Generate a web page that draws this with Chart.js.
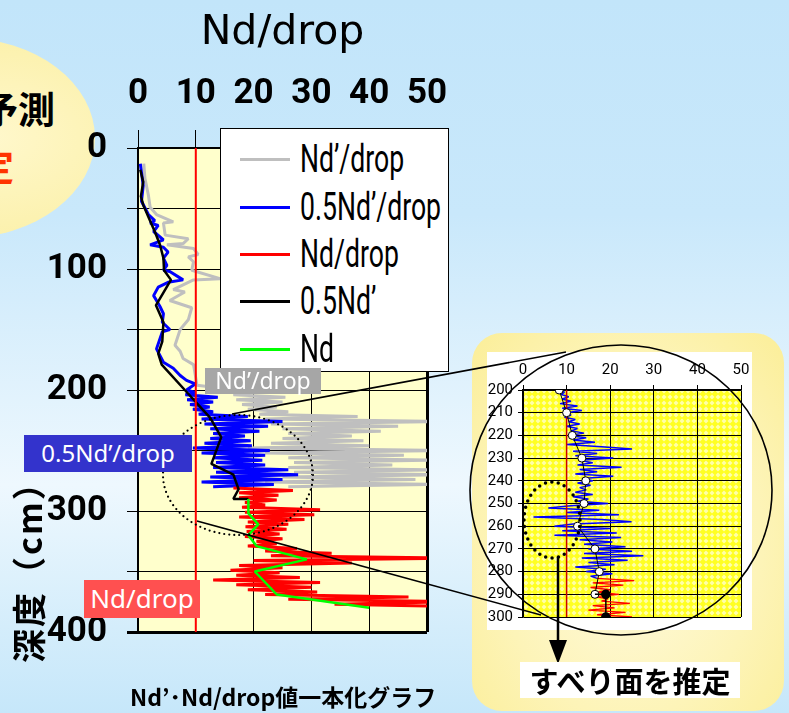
<!DOCTYPE html>
<html>
<head>
<meta charset="utf-8">
<script src="https://cdn.jsdelivr.net/npm/chart.js@4.4.1/dist/chart.umd.min.js"></script>
<style>
  body { margin: 0; }
  #slide {
    position: relative; width: 789px; height: 713px; overflow: hidden;
    background: linear-gradient(to bottom, #c2e5fa 0%, #c9e8fb 30%, #eef8fe 68%, #d4edfb 88%, #c6e7fa 100%);
    font-family: 'Noto Sans CJK JP', 'Noto Sans', sans-serif;
  }
  #slide > * { position: absolute; }
  #blob {
    left: -170px; top: 38px; width: 265px; height: 200px; border-radius: 50%;
    background: radial-gradient(ellipse at 60% 50%, #fff8cc 0%, #fbf0a8 80%, #f7eeb0 100%);
  }
  .blobtxt { font-weight: bold; font-size: 37px; line-height: 1; white-space: nowrap; }
  #t1 { left: -19px; top: 90px; color: #000; }
  #t2 { left: -23px; top: 147px; color: #ff3300; }
  #mainChart { left: 0; top: 0; }
  #legend {
    left: 220px; top: 128px; width: 229px; height: 244px; background: #fff;
    border: 1px solid #000; box-sizing: border-box; padding-top: 5px;
    font-family: Roboto, sans-serif; font-size: 38px;
  }
  #legend .item { height: 47.3px; line-height: 47px; white-space: nowrap; }
  #legend .swatch { display: inline-block; width: 50px; height: 3px; margin: 0 10px 0 19px; vertical-align: middle; }
  #legend .txt { display: inline-block; transform: scaleX(0.70); transform-origin: 0 50%; vertical-align: middle; }
  #panel {
    left: 472px; top: 333px; width: 312px; height: 378px; border-radius: 30px;
    background: radial-gradient(ellipse at 50% 55%, #fffbe2 0%, #fdf4b8 60%, #fbee98 100%);
  }
  #insetChart { left: 487px; top: 352px; background: #fff; }
  #deco { left: 0; top: 0; pointer-events: none; }
  .tag { color: #fff; font-family: 'Noto Sans', sans-serif; white-space: nowrap; text-align: center; }
  #tagGray { left: 205px; top: 368px; width: 116px; height: 26px; line-height: 24px; background: #a6a6a6; font-size: 23px; }
  #tagBlue { left: 24px; top: 435px; width: 168px; height: 37px; line-height: 36px; background: #3333cc; font-size: 24px; }
  #tagRed { left: 84px; top: 580px; width: 116px; height: 38px; line-height: 37px; background: #ff5050; font-size: 26px; }
  #yTitle {
    left: 11px; top: 663px; height: 34px; line-height: 34px; transform-origin: 0 0;
    transform: rotate(-90deg); font-weight: bold; font-size: 34px; white-space: nowrap; letter-spacing: 2px;
  }
  #caption { left: 130px; top: 679px; font-weight: bold; font-size: 23px; white-space: nowrap; }
  #result {
    left: 520px; top: 662px; width: 220px; height: 36px; background: #fff; line-height: 36px;
    text-align: center; font-weight: bold; font-size: 29px; white-space: nowrap;
  }
</style>
</head>
<body>
<div id="slide">
  <div id="blob"></div>
  <div class="blobtxt" id="t1">予測</div>
  <div class="blobtxt" id="t2">定</div>
  <canvas id="mainChart" width="460" height="650"></canvas>
  <div id="legend"></div>
  <div id="panel"></div>
  <canvas id="insetChart" width="265" height="278"></canvas>
  <svg id="deco" width="789" height="713">
    <ellipse cx="238" cy="475" rx="75" ry="60" fill="none" stroke="#000" stroke-width="2.2" stroke-dasharray="0 5" stroke-linecap="round"/>
    <line x1="232" y1="414" x2="566" y2="352" stroke="#000" stroke-width="1.6"/>
    <line x1="197" y1="521" x2="541" y2="615" stroke="#000" stroke-width="1.6"/>
    <ellipse cx="621" cy="490" rx="151" ry="145" fill="none" stroke="#000" stroke-width="1.6"/>
    <ellipse cx="552" cy="520" rx="28" ry="38" fill="none" stroke="#000" stroke-width="3.5" stroke-dasharray="0 6.5" stroke-linecap="round"/>
    <line x1="558" y1="557" x2="558" y2="642" stroke="#000" stroke-width="2.5"/>
    <polygon points="549,640 567,640 558,664" fill="#000"/>
  </svg>
  <div class="tag" id="tagGray">Nd’/drop</div>
  <div class="tag" id="tagBlue">0.5Nd’/drop</div>
  <div class="tag" id="tagRed">Nd/drop</div>
  <div id="yTitle">深度（cm）</div>
  <div id="caption">Nd’･Nd/drop値一本化グラフ</div>
  <div id="result">すべり面を推定</div>
</div>

<script>
// ---- main chart data (depth in cm, value Nd/drop) ----
const criterion = 10;
const depthLabels = [0, 100, 200, 300, 400];

const grayDepth = [13, 25, 39, 49, 55, 61, 62, 72, 75, 79, 80, 83, 88, 90, 94, 101, 108, 109, 117, 119,
  126, 132, 142, 150, 163, 168, 174, 179, 190, 196,
  200, 202, 204, 206, 208, 210, 212, 214, 216, 218, 220, 222, 224, 226, 228, 230, 232, 234, 236, 238,
  240, 242, 244, 246, 248, 250, 252, 254, 256, 258, 260, 262, 264, 266, 268, 270, 272, 274, 276, 278, 280];
const grayVal = [1.0, 1.2, 1.8, 2.1, 3.2, 6.1, 4.4, 4.7, 8.7, 7.8, 5.0, 9.6, 10.4, 8.7, 9.6, 9.3, 14.2, 9.6, 6.1, 8.1,
  5.5, 9.3, 8.7, 7.3, 6.4, 7.3, 7.8, 9.6, 10.0, 10.2,
  17, 19, 16.5, 25.5, 17, 25, 18, 24, 19, 26, 21, 38, 22, 52, 23, 45, 25, 42, 26, 37,
  25, 39, 23, 40, 19, 52, 22, 46, 26, 52, 27, 44, 26, 52, 27, 53, 25, 48, 22, 52, 26];

const blueDepth = [13, 31, 44, 55, 60, 62, 64, 69, 76, 80, 82, 86, 91, 97, 101, 102, 109, 111, 115, 122,
  126, 131, 137, 144, 150, 152, 166, 177, 182, 188, 192, 195,
  200, 202, 204, 206, 208, 210, 212, 214, 216, 218, 220, 222, 224, 226, 228, 230, 232, 234, 236, 238,
  240, 242, 244, 246, 248, 250, 252, 254, 256, 258, 260, 262, 264, 266, 268, 270, 272, 274, 276, 278, 280];
const blueVal = [0.4, 0.9, 0.6, 1.8, 2.9, 2.1, 3.5, 2.7, 4.4, 2.1, 4.4, 5.2, 4.4, 5.0, 4.4, 5.5, 7.8, 5.2, 3.5, 2.7,
  3.2, 3.8, 4.4, 4.2, 5.5, 4.2, 3.2, 4.4, 6.1, 7.3, 8.4, 9.9,
  8.4, 9.9, 8.2, 13.8, 8.5, 13.0, 9.0, 12.4, 9.5, 13.0, 10.5, 19.0, 11.0, 25.0, 11.5, 22.5, 12.5, 21.0, 13.0, 18.5,
  12.5, 19.5, 11.5, 19.7, 9.5, 22.8, 11.0, 22.0, 13.0, 21.5, 13.5, 22.0, 13.0, 26.0, 13.5, 27.7, 12.5, 25.0, 11.0, 23.5, 13.0];

const redDepth = [281, 283, 285, 287, 289, 291, 293, 295, 297, 299, 301, 303, 305, 307, 309, 311, 313, 315, 317, 319,
  321, 323, 325, 327, 329, 331, 333, 335, 337, 339, 341, 343, 345, 347, 349, 351, 353, 355, 357, 359,
  361, 363, 365, 367, 369, 371, 373, 375, 377, 379];
const redVal = [16.5, 26.8, 17.5, 24.3, 17.5, 24.0, 18.5, 22.0, 18.0, 31.5, 18.5, 30.5, 17.5, 28.8, 19.0, 26.0, 18.6, 25.7, 18.8, 24.5,
  18.5, 25.0, 20.5, 24.0, 19.0, 27.5, 22.0, 33.5, 23.0, 55.0, 20.0, 37.0, 17.5, 25.0, 16.0, 24.5, 17.0, 28.0, 13.0, 31.5,
  17.0, 30.0, 19.0, 31.0, 22.0, 46.8, 26.0, 55.0, 34.0, 55.0];

const blackDepth = [18, 28, 40, 47, 57, 69, 80, 91, 101, 109, 130, 144, 160, 170, 179, 200, 223, 239, 261, 270, 282, 290, 290];
const blackVal = [0.4, 0.9, 0.5, 0.9, 1.8, 2.9, 3.8, 4.4, 4.5, 5.7, 3.1, 4.4, 4.2, 3.5, 4.1, 8.1, 12.5, 14.4, 12.7, 16.5, 17.4, 16.5, 19.1];

const greenDepth = [290, 302, 311, 320, 329, 340, 350, 369, 380];
const greenVal = [19.1, 19.1, 20.8, 19.1, 20.5, 29.2, 20.2, 24.0, 40.0];

// ---- inset chart data (200-300 cm) ----
const insetBlueDepth = [200, 201, 202, 203, 204, 205, 206, 207, 208, 209, 210, 211, 212, 213, 214, 215, 216, 217, 218, 219,
  220, 221, 222, 223, 224, 225, 226, 227, 228, 229, 230, 231, 232, 233, 234, 235, 236, 237, 238, 239,
  240, 241, 242, 243, 244, 245, 246, 247, 248, 249, 250, 251, 252, 253, 254, 255, 256, 257, 258, 259,
  260, 261, 262, 263, 264, 265, 266, 267, 268, 269, 270, 271, 272, 273, 274, 275, 276, 277, 278, 279,
  280, 281, 282, 283];
const insetBlueVal = [8.5, 9.5, 8.8, 10.5, 9.0, 11.0, 8.5, 12.5, 9.0, 13.5, 10.0, 11.0, 9.5, 12.0, 10.5, 13.0, 10.0, 12.5, 11.0, 14.0,
  10.5, 14.5, 11.5, 16.5, 10.0, 18.0, 25.0, 11.5, 17.0, 12.0, 20.7, 13.0, 16.0, 12.5, 22.6, 13.0, 17.0, 12.0, 20.7, 13.5,
  16.0, 12.5, 15.5, 13.0, 14.5, 12.0, 16.0, 11.5, 15.0, 12.5, 19.5, 11.0, 5.8, 17.5, 10.0, 22.0, 2.4, 18.0, 24.9, 11.5,
  7.2, 20.0, 9.0, 21.5, 7.2, 22.5, 13.0, 20.5, 14.0, 23.5, 15.0, 25.0, 14.0, 27.6, 13.5, 24.0, 15.0, 21.0, 12.0, 19.0,
  14.5, 20.5, 15.5, 17.0];
const insetRedDepth = [283, 284, 285, 286, 287, 288, 289, 290, 291, 292, 293, 294, 295, 296, 297, 298, 299, 300];
const insetRedVal = [17.0, 25.5, 16.0, 23.0, 15.5, 20.0, 17.0, 22.0, 16.5, 19.5, 18.0, 24.5, 16.0, 21.0, 15.0, 23.5, 17.0, 25.0];
const insetHalfDepth = [200, 210, 220, 230, 240, 250, 260, 270, 280, 290];
const insetHalfVal = [8.3, 10.0, 11.3, 13.5, 14.4, 14.0, 12.5, 16.5, 17.5, 16.5];
const insetNdDepth = [290, 290, 300];
const insetNdVal = [16.5, 19.0, 19.0];

const digits = "Roboto, 'Noto Sans', sans-serif";

function pts(depths, vals) {
  return depths.map((d, i) => ({ x: vals[i], y: d }));
}

const plotBg = {
  id: 'plotBg',
  beforeDraw(chart, args, opts) {
    const { ctx, chartArea: a } = chart;
    ctx.save();
    ctx.fillStyle = opts.color;
    ctx.fillRect(a.left, a.top, a.width, a.height);
    ctx.restore();
  }
};

// pin the plot area: axis boxes get a fixed size and no label overhang padding
function fixX(h) { return s => { s.height = h; s.paddingLeft = 0; s.paddingRight = 0; }; }
function fixY(w) { return s => { s.width = w; s.paddingTop = 0; s.paddingBottom = 0; }; }

const lineBase = { showLine: true, pointRadius: 0, borderJoinStyle: 'bevel', tension: 0, fill: false };

const mainChart = new Chart(document.getElementById('mainChart'), {
  type: 'scatter',
  data: {
    datasets: [
      { ...lineBase, label: 'Nd’/drop', data: pts(grayDepth, grayVal), borderColor: '#bfbfbf', borderWidth: 3, order: 5, inLegend: true },
      { ...lineBase, label: '0.5Nd’/drop', data: pts(blueDepth, blueVal), borderColor: '#0000ff', borderWidth: 3, order: 4, inLegend: true },
      { ...lineBase, label: 'Nd/drop', data: pts(redDepth, redVal), borderColor: '#ff0000', borderWidth: 3, order: 3, inLegend: true },
      { ...lineBase, label: '0.5Nd’', data: pts(blackDepth, blackVal), borderColor: '#000000', borderWidth: 2.5, order: 2, inLegend: true },
      { ...lineBase, label: 'Nd', data: pts(greenDepth, greenVal), borderColor: '#00ff00', borderWidth: 2.5, order: 1, inLegend: true },
      { ...lineBase, label: 'criterion', data: [{ x: criterion, y: 0 }, { x: criterion, y: 400 }], borderColor: '#ff0000', borderWidth: 2, order: 0 }
    ]
  },
  options: {
    responsive: false,
    animation: false,
    layout: { padding: { left: 0, top: 0, right: 33, bottom: 18 } },
    plugins: {
      legend: { display: false },
      tooltip: { enabled: false },
      plotBg: { color: '#ffffcc' }
    },
    scales: {
      x: {
        type: 'linear', position: 'top', min: 0, max: 50,
        afterFit: fixX(148),
        ticks: { stepSize: 10, color: '#000', font: { family: digits, size: 35, weight: 'bold' }, padding: 15 },
        grid: { color: '#000', lineWidth: c => (c.tick && c.tick.value === 50 ? 3 : 1), tickLength: 18 },
        border: { color: '#000', width: 2 },
        title: { display: true, text: 'Nd/drop', color: '#000', font: { family: "'DejaVu Sans', sans-serif", size: 41 }, padding: { top: 9, bottom: 0 } }
      },
      y: {
        type: 'linear', reverse: true, min: 0, max: 400,
        afterFit: fixY(138),
        ticks: {
          stepSize: 50, autoSkip: false, color: '#000', padding: 20,
          font: { family: digits, size: 35, weight: 'bold' },
          callback: v => (depthLabels.includes(v) ? v : '')
        },
        grid: { color: '#000', lineWidth: c => (c.tick && c.tick.value === 400 ? 3 : 1), tickLength: 11 },
        border: { color: '#000', width: 2 }
      }
    }
  },
  plugins: [plotBg]
});

// legend built from the chart's own datasets
const legendEl = document.getElementById('legend');
mainChart.data.datasets.filter(d => d.inLegend).forEach(d => {
  const row = document.createElement('div');
  row.className = 'item';
  row.innerHTML = '<span class="swatch" style="background:' + d.borderColor + '"></span><span class="txt">' + d.label + '</span>';
  legendEl.appendChild(row);
});

// yellow checkered fill for the inset plot
const tile = document.createElement('canvas');
tile.width = 6; tile.height = 6;
const tctx = tile.getContext('2d');
tctx.fillStyle = '#ffff22';
tctx.fillRect(0, 0, 6, 6);
tctx.fillStyle = '#ffffaa';
tctx.beginPath(); tctx.moveTo(3, 0.5); tctx.lineTo(5.5, 3); tctx.lineTo(3, 5.5); tctx.lineTo(0.5, 3); tctx.closePath(); tctx.fill();
const yellowPattern = tctx.createPattern(tile, 'repeat');

new Chart(document.getElementById('insetChart'), {
  type: 'scatter',
  data: {
    datasets: [
      { ...lineBase, label: '0.5Nd’/drop', data: pts(insetBlueDepth, insetBlueVal), borderColor: '#0000ff', borderWidth: 1.5, order: 4 },
      { ...lineBase, label: 'Nd/drop', data: pts(insetRedDepth, insetRedVal), borderColor: '#ff0000', borderWidth: 1.3, order: 3 },
      { ...lineBase, label: '0.5Nd’', data: pts(insetHalfDepth, insetHalfVal), borderColor: '#000', borderWidth: 1,
        pointRadius: 4, pointBackgroundColor: '#fff', pointBorderColor: '#000', pointBorderWidth: 1, order: 1 },
      { ...lineBase, label: 'Nd', data: pts(insetNdDepth, insetNdVal), borderColor: '#000', borderWidth: 1.5,
        pointRadius: [0, 4, 4], pointBackgroundColor: '#000', pointBorderColor: '#000', order: 0 },
      { ...lineBase, label: 'criterion', data: [{ x: criterion, y: 200 }, { x: criterion, y: 300 }], borderColor: '#cc0000', borderWidth: 1.5, order: 2 }
    ]
  },
  options: {
    responsive: false,
    animation: false,
    layout: { padding: { left: 0, top: 0, right: 11, bottom: 13 } },
    plugins: { legend: { display: false }, tooltip: { enabled: false }, plotBg: { color: yellowPattern } },
    scales: {
      x: {
        type: 'linear', position: 'top', min: 0, max: 50,
        afterFit: fixX(38),
        ticks: { stepSize: 10, color: '#000', font: { family: digits, size: 15 }, padding: 6 },
        grid: { color: '#000', lineWidth: 1, tickLength: 5 },
        border: { color: '#000', width: 1.5 }
      },
      y: {
        type: 'linear', reverse: true, min: 200, max: 300,
        afterFit: fixY(36),
        ticks: { stepSize: 10, autoSkip: false, color: '#000', font: { family: digits, size: 15 }, padding: 5 },
        grid: { color: '#000', lineWidth: 1, tickLength: 5 },
        border: { color: '#000', width: 1.5 }
      }
    }
  },
  plugins: [plotBg]
});
</script>
</body>
</html>
